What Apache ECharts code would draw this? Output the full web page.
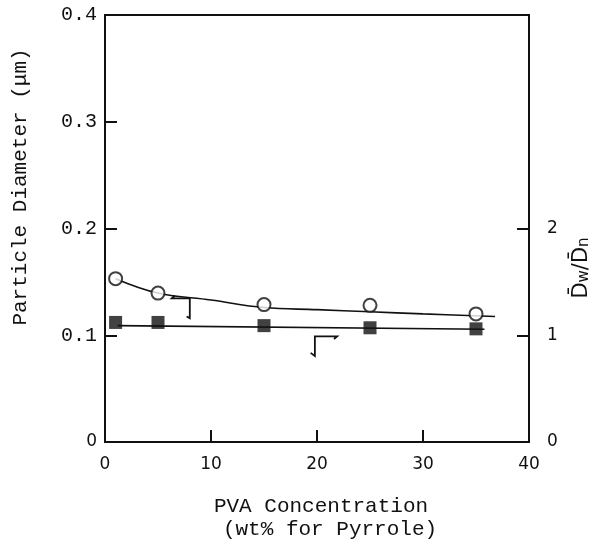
<!DOCTYPE html>
<html><head><meta charset="utf-8">
<script src="https://cdn.jsdelivr.net/npm/echarts@6/dist/echarts.min.js"></script>
<style>html,body{margin:0;padding:0;background:#fff}#c{width:602px;height:548px}</style>
</head><body><div id="c"></div>
<script>
// PVA concentration (wt% for pyrrole)
const pvaConc = [1, 5, 15, 25, 35];
// particle diameter (μm), open circles, left axis
const diameter = [0.153, 0.1395, 0.1287, 0.128, 0.120];
// Dw/Dn, filled squares, right axis
const dwdn = [1.12, 1.12, 1.09, 1.07, 1.06];
// hand-drawn trend curves
const diamFitX = [1, 5, 10, 15, 20, 25, 30, 36.8];
const diamFitY = [0.153, 0.1395, 0.133, 0.126, 0.124, 0.122, 0.120, 0.1175];
const dwdnFitX = [1.2, 35.8];
const dwdnFitY = [1.09, 1.056];
// tick labels
const xTicks = [0, 10, 20, 30, 40];
const leftTicks = [0, 0.1, 0.2, 0.3, 0.4];
const rightTicks = [0, 1, 2];

const ink = '#111';
const mono = 'Liberation Mono';
const sans = 'DejaVu Sans';

const chart = echarts.init(document.getElementById('c'), null, {renderer: 'canvas'});
const option = {
  animation: false,
  backgroundColor: '#fff',
  grid: {left: 105, right: 73, top: 15, bottom: 106, show: true, borderColor: ink, borderWidth: 2},
  xAxis: {
    type: 'value', min: 0, max: 40, interval: 10,
    axisLine: {show: true, lineStyle: {color: ink, width: 2}},
    axisTick: {show: true, inside: true, length: 12, lineStyle: {color: ink, width: 2}, customValues: xTicks.slice(1, -1)},
    axisLabel: {color: ink, fontFamily: sans, fontSize: 17, margin: 14, customValues: xTicks},
    splitLine: {show: false}
  },
  yAxis: [{
    type: 'value', min: 0, max: 0.4, interval: 0.1,
    axisLine: {show: true, lineStyle: {color: ink, width: 2}},
    axisTick: {show: true, inside: true, length: 12, lineStyle: {color: ink, width: 2}, customValues: leftTicks.slice(1, -1)},
    axisLabel: {
      color: ink, margin: 8, customValues: leftTicks,
      formatter: v => v === 0 ? '{s|0}' : '{m|' + v.toFixed(1) + '}',
      rich: {s: {fontFamily: sans, fontSize: 17, color: ink}, m: {fontFamily: mono, fontSize: 20, color: ink}}
    },
    splitLine: {show: false}
  }, {
    type: 'value', min: 0, max: 4, interval: 1, position: 'right',
    axisLine: {show: true, lineStyle: {color: ink, width: 2}},
    axisTick: {show: true, inside: true, length: 12, lineStyle: {color: ink, width: 2}, customValues: rightTicks.slice(1)},
    axisLabel: {color: ink, fontFamily: sans, fontSize: 17, margin: 18, customValues: rightTicks},
    splitLine: {show: false}
  }],
  series: [{
    type: 'line', yAxisIndex: 0, smooth: 0.4, symbol: 'none', silent: true,
    lineStyle: {color: ink, width: 1.6},
    data: diamFitX.map((x, i) => [x, diamFitY[i]]), z: 2
  }, {
    type: 'line', yAxisIndex: 1, symbol: 'none', silent: true,
    lineStyle: {color: ink, width: 1.6},
    data: dwdnFitX.map((x, i) => [x, dwdnFitY[i]]), z: 2
  }, {
    type: 'scatter', yAxisIndex: 0, symbol: 'circle', symbolSize: 13,
    itemStyle: {color: '#fff', borderColor: ink, borderWidth: 2},
    data: pvaConc.map((x, i) => [x, diameter[i]]), z: 3
  }, {
    type: 'scatter', yAxisIndex: 1, symbol: 'rect', symbolSize: 13,
    itemStyle: {color: ink},
    data: pvaConc.map((x, i) => [x, dwdn[i]]), z: 3
  }]
};
chart.setOption(option);

// annotation arrows, positioned in data coordinates (left axis units)
const px = p => chart.convertToPixel({xAxisIndex: 0, yAxisIndex: 0}, p);
const circArrow = [[6.6, 0.1372], [6.3, 0.1345], [8.0, 0.1345], [8.0, 0.116], [7.7, 0.1175]];
const sqArrow = [[19.4, 0.0835], [19.8, 0.0805], [19.8, 0.0990], [21.9, 0.0990], [21.6, 0.0965]];
chart.setOption({
  graphic: [
    {type: 'polyline', shape: {points: circArrow.map(px)}, style: {stroke: ink, lineWidth: 1.8, fill: null}},
    {type: 'polyline', shape: {points: sqArrow.map(px)}, style: {stroke: ink, lineWidth: 1.8, fill: null}},
    {type: 'text', x: 20, y: 187, rotation: Math.PI / 2,
      style: {text: 'Particle Diameter (μm)', font: '21px "Liberation Mono"', fill: ink, align: 'center', verticalAlign: 'middle'}},
    {type: 'text', x: 321, y: 506,
      style: {text: 'PVA Concentration', font: '21px "Liberation Mono"', fill: ink, align: 'center', verticalAlign: 'middle'}},
    {type: 'text', x: 330, y: 529,
      style: {text: '(wt% for Pyrrole)', font: '21px "Liberation Mono"', fill: ink, align: 'center', verticalAlign: 'middle'}},
    {type: 'text', x: 580, y: 268, rotation: Math.PI / 2,
      style: {
        text: '{d|D\u0304}{s|w}{d|/D\u0304}{s|n}', align: 'center', verticalAlign: 'middle',
        rich: {d: {font: '21px "DejaVu Sans"', fill: ink, verticalAlign: 'bottom'},
               s: {font: '15px "DejaVu Sans"', fill: ink, padding: [9, 0, 0, 0]}}
      }}
  ]
});
</script></body></html>
